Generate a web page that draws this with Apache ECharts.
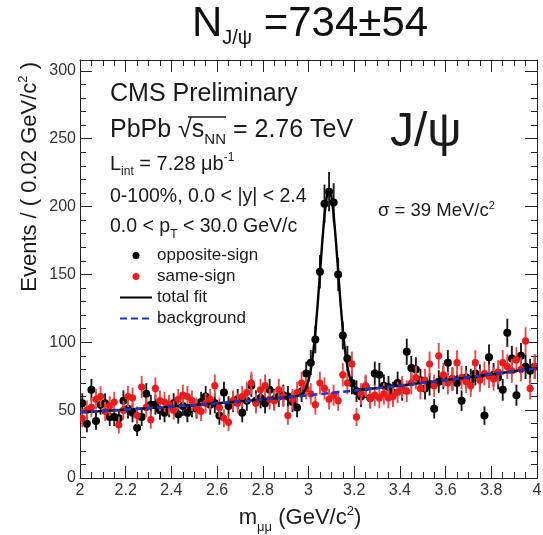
<!DOCTYPE html>
<html>
<head>
<meta charset="utf-8">
<script src="https://cdn.jsdelivr.net/npm/echarts@6/dist/echarts.min.js"></script>
<style>
html, body { margin: 0; padding: 0; background: #fff; }
#chart { width: 543px; height: 535px; }
</style>
</head>
<body>
<div id="chart"></div>
<script>
// Dimuon invariant mass, 0.02 GeV/c^2 bins between 2 and 4 GeV/c^2
const massBins = [
  2.01, 2.03, 2.05, 2.07, 2.09, 2.11, 2.13, 2.15, 2.17, 2.19,
  2.21, 2.23, 2.25, 2.27, 2.29, 2.31, 2.33, 2.35, 2.37, 2.39,
  2.41, 2.43, 2.45, 2.47, 2.49, 2.51, 2.53, 2.55, 2.57, 2.59,
  2.61, 2.63, 2.65, 2.67, 2.69, 2.71, 2.73, 2.75, 2.77, 2.79,
  2.81, 2.83, 2.85, 2.87, 2.89, 2.91, 2.93, 2.95, 2.97, 2.99,
  3.01, 3.03, 3.05, 3.07, 3.09, 3.11, 3.13, 3.15, 3.17, 3.19,
  3.21, 3.23, 3.25, 3.27, 3.29, 3.31, 3.33, 3.35, 3.37, 3.39,
  3.41, 3.43, 3.45, 3.47, 3.49, 3.51, 3.53, 3.55, 3.57, 3.59,
  3.61, 3.63, 3.65, 3.67, 3.69, 3.71, 3.73, 3.75, 3.77, 3.79,
  3.81, 3.83, 3.85, 3.87, 3.89, 3.91, 3.93, 3.95, 3.97, 3.99
];

// Opposite-sign dimuon counts per bin
const oppositeSign = [
  55, 40, 65, 42, 54, 55, 45, 45, 44, 57,
  51, 48, 37, 45, 62, 54, 54, 50, 48, 52,
  55, 47, 53, 48, 52, 51, 56, 60, 54, 55,
  46, 63, 53, 56, 58, 48, 57, 68, 57, 59,
  55, 65, 58, 60, 61, 60, 56, 52, 64, 77,
  85, 102, 152, 202, 211, 203, 150, 105, 88, 70,
  64, 60, 67, 59, 77, 76, 68, 67, 63, 70,
  65, 93, 81, 80, 72, 66, 69, 51, 71, 74,
  85, 73, 70, 57, 74, 72, 77, 75, 46, 89,
  76, 74, 65, 107, 88, 61, 90, 82, 79, 82
];

// Same-sign dimuon counts per bin
const sameSign = [
  44, 50, 52, 58, 60, 49, 53, 56, 39, 50,
  60, 59, 46, 67, 52, 43, 66, 57, 56, 54,
  50, 58, 61, 60, 57, 52, 49, 55, 58, 68,
  52, 44, 41, 57, 55, 60, 63, 70, 55, 65,
  68, 58, 57, 65, 60, 46, 58, 63, 70, 66,
  62, 54, 70, 66, 58, 61, 57, 76, 70, 84,
  45, 62, 68, 59, 61, 59, 62, 59, 60, 63,
  67, 64, 70, 74, 66, 72, 84, 68, 90, 76,
  70, 73, 85, 74, 71, 68, 85, 72, 77, 75,
  73, 78, 85, 82, 79, 87, 80, 101, 66, 82
];

// Total fit (signal + background), sampled finely across the J/psi peak
const fitMass = [
  2.0, 2.1, 2.2, 2.3, 2.4, 2.5, 2.6, 2.7, 2.8, 2.9,
  2.94, 2.95, 2.96, 2.97, 2.98, 2.99, 3.00, 3.01, 3.02, 3.03,
  3.04, 3.05, 3.06, 3.07, 3.08, 3.09, 3.10, 3.11, 3.12, 3.13,
  3.14, 3.15, 3.16, 3.17, 3.18, 3.19, 3.20, 3.21, 3.22, 3.23,
  3.24, 3.3, 3.4, 3.5, 3.6, 3.7, 3.8, 3.9, 4.0
];
const fitTotal = [
  48.5, 49.4, 50.4, 51.5, 52.6, 53.8, 55.1, 56.5, 57.9, 59.4,
  60.1, 60.4, 60.9, 61.8, 63.5, 66.4, 71.5, 79.5, 91.3, 107.4,
  127.7, 150.4, 173.6, 193.7, 207.5, 212.5, 207.9, 194.3, 174.6, 151.8,
  129.3, 109.4, 93.7, 82.2, 74.5, 69.8, 67.2, 65.9, 65.3, 65.2,
  65.2, 66.2, 68.1, 70.1, 72.1, 74.2, 76.4, 78.7, 81.0
];

// Background component of the fit
const bkgMass = [
  2.0, 2.1, 2.2, 2.3, 2.4, 2.5, 2.6, 2.7, 2.8, 2.9, 3.0,
  3.1, 3.2, 3.3, 3.4, 3.5, 3.6, 3.7, 3.8, 3.9, 4.0
];
const bkgValues = [
  48.5, 49.4, 50.4, 51.5, 52.6, 53.8, 55.1, 56.5, 57.9, 59.4, 61.0,
  62.7, 64.4, 66.2, 68.1, 70.1, 72.1, 74.2, 76.4, 78.7, 81.0
];

const xTicks = { min: 2, max: 4, interval: 0.2 };
const yTicks = { min: 0, max: 308, major: 50, minor: 10 };

const FONT = 'Liberation Sans, Arial, Helvetica, sans-serif';

// points with Poisson error bars
function withErrors(values) {
  return values.map((v, i) => [massBins[i], v, Math.sqrt(v)]);
}

function errorBarRenderer(barColor, dotColor, radius) {
  return function (params, api) {
    const x = api.value(0), y = api.value(1), e = api.value(2);
    const hi = api.coord([x, y + e]);
    const lo = api.coord([x, y - e]);
    const c = api.coord([x, y]);
    return {
      type: 'group',
      children: [
        { type: 'line', shape: { x1: hi[0], y1: hi[1], x2: lo[0], y2: lo[1] },
          style: { stroke: barColor, lineWidth: 1.9 } },
        { type: 'circle', shape: { cx: c[0], cy: c[1], r: radius },
          style: { fill: dotColor } }
      ]
    };
  };
}

function richSet(F) {
  return {
    m: { fontSize: F, lineHeight: Math.round(F * 1.4), fontFamily: FONT, color: '#1a1a1a' },
    sub: { fontSize: Math.round(F * 0.6), lineHeight: Math.round(F * 0.6), verticalAlign: 'bottom', fontFamily: FONT, color: '#1a1a1a' },
    sup: { fontSize: Math.round(F * 0.6), lineHeight: Math.round(F * 0.6), verticalAlign: 'top',
           padding: [Math.round(F * 0.09), 0, 0, 0], fontFamily: FONT, color: '#1a1a1a' }
  };
}

function label(text, x, y, F, extra) {
  return Object.assign({
    type: 'text',
    x: x, y: y,
    style: {
      text: text,
      rich: richSet(F),
      fontSize: F,
      fontFamily: FONT,
      fill: '#1a1a1a',
      align: 'left', textAlign: 'left',
      verticalAlign: 'middle', textVerticalAlign: 'middle'
    },
    z: 10
  }, extra || {});
}

const titleRich = {
  n: { fontSize: 42, lineHeight: 48, fontFamily: FONT, color: '#111' },
  s: { fontSize: 20, lineHeight: 20, padding: [28, 0, 0, 0], verticalAlign: 'bottom', fontFamily: FONT, color: '#111' }
};

const chart = echarts.init(document.getElementById('chart'), null, { renderer: 'canvas' });

const axisLabelStyle = { fontSize: 16, color: '#333', fontFamily: FONT };

// legend icons for the curves: line only, no marker
const curveLegendStyle = { opacity: 0, borderWidth: 0 };

chart.setOption({
  animation: false,
  backgroundColor: '#fff',
  textStyle: { fontFamily: FONT },
  grid: { left: 80, right: 6, top: 60, bottom: 57, containLabel: false, outerBoundsMode: 'none' },
  legend: {
    orient: 'vertical',
    left: 114, top: 242,
    itemWidth: 32, itemHeight: 7, itemGap: 4,
    selectedMode: false,
    textStyle: { fontSize: 17, color: '#1a1a1a', fontFamily: FONT },
    data: [
      { name: 'opposite-sign', icon: 'circle', itemStyle: { color: '#000' } },
      { name: 'same-sign', icon: 'circle', itemStyle: { color: '#e81c1c' } },
      { name: 'total fit', itemStyle: curveLegendStyle },
      { name: 'background', itemStyle: curveLegendStyle }
    ]
  },
  xAxis: [
    {
      type: 'value', position: 'bottom',
      min: xTicks.min, max: xTicks.max, interval: xTicks.interval,
      axisLine: { show: true, onZero: false, lineStyle: { color: '#222', width: 1 } },
      axisTick: { show: true, inside: true, length: 12, lineStyle: { color: '#222' } },
      minorTick: { show: true, splitNumber: 4, length: 6, lineStyle: { color: '#222' } },
      splitLine: { show: false },
      axisLabel: Object.assign({ margin: 5, formatter: v => String(+v.toFixed(1)) }, axisLabelStyle)
    },
    {
      type: 'value', position: 'top',
      min: xTicks.min, max: xTicks.max, interval: xTicks.interval,
      axisLine: { show: true, onZero: false, lineStyle: { color: '#222', width: 1 } },
      axisTick: { show: true, inside: true, length: 12, lineStyle: { color: '#222' } },
      minorTick: { show: true, splitNumber: 4, length: 6, lineStyle: { color: '#222' } },
      splitLine: { show: false },
      axisLabel: { show: false }
    }
  ],
  yAxis: [
    {
      type: 'value', position: 'left',
      min: yTicks.min, max: yTicks.max, interval: yTicks.major,
      axisLine: { show: true, onZero: false, lineStyle: { color: '#222', width: 1 } },
      axisTick: { show: true, inside: true, length: 12, lineStyle: { color: '#222' } },
      splitLine: { show: false },
      axisLabel: Object.assign({ margin: 4, formatter: v => (v % yTicks.major === 0 ? String(v) : '') }, axisLabelStyle)
    },
    {
      type: 'value', position: 'left',
      min: yTicks.min, max: yTicks.max, interval: yTicks.minor,
      axisLine: { show: false },
      axisTick: { show: true, inside: true, length: 6, lineStyle: { color: '#222' } },
      splitLine: { show: false },
      axisLabel: { show: false }
    },
    {
      type: 'value', position: 'right',
      min: yTicks.min, max: yTicks.max, interval: yTicks.major,
      axisLine: { show: true, onZero: false, lineStyle: { color: '#222', width: 1 } },
      axisTick: { show: true, inside: true, length: 12, lineStyle: { color: '#222' } },
      splitLine: { show: false },
      axisLabel: { show: false }
    },
    {
      type: 'value', position: 'right',
      min: yTicks.min, max: yTicks.max, interval: yTicks.minor,
      axisLine: { show: false },
      axisTick: { show: true, inside: true, length: 6, lineStyle: { color: '#222' } },
      splitLine: { show: false },
      axisLabel: { show: false }
    }
  ],
  series: [
    {
      name: 'opposite-sign', type: 'custom',
      xAxisIndex: 0, yAxisIndex: 0,
      data: withErrors(oppositeSign),
      encode: { x: 0, y: 1 },
      renderItem: errorBarRenderer('#1b1b1b', '#000', 4),
      itemStyle: { color: '#000' },
      clip: true, z: 2
    },
    {
      name: 'same-sign', type: 'custom',
      xAxisIndex: 0, yAxisIndex: 0,
      data: withErrors(sameSign),
      encode: { x: 0, y: 1 },
      renderItem: errorBarRenderer('#f04848', '#e81c1c', 3.6),
      itemStyle: { color: '#e81c1c' },
      clip: true, z: 3
    },
    {
      name: 'total fit', type: 'line',
      xAxisIndex: 0, yAxisIndex: 0,
      data: fitMass.map((m, i) => [m, fitTotal[i]]),
      symbol: 'none', smooth: false,
      lineStyle: { color: '#000', width: 2.4 },
      itemStyle: { color: '#000' },
      z: 4
    },
    {
      name: 'background', type: 'line',
      xAxisIndex: 0, yAxisIndex: 0,
      data: bkgMass.map((m, i) => [m, bkgValues[i]]),
      symbol: 'none', smooth: true,
      lineStyle: { color: '#2233c8', width: 2.6, type: [7, 4] },
      itemStyle: { color: '#2233c8' },
      z: 5
    }
  ],
  graphic: [
    {
      type: 'text', x: 310, y: 24, z: 10,
      style: {
        text: '{n|N}{s|J/ψ}{n| =734±54}',
        rich: titleRich, fontSize: 42, fontFamily: FONT, fill: '#111',
        align: 'center', textAlign: 'center',
        verticalAlign: 'middle', textVerticalAlign: 'middle'
      }
    },
    label('{m|CMS Preliminary}', 110, 94, 25),
    label('{m|PbPb √s}{sub|NN}{m| = 2.76 TeV}', 110, 130, 25),
    {
      type: 'line', z: 10,
      shape: { x1: 188, y1: 117, x2: 226, y2: 117 },
      style: { stroke: '#1a1a1a', lineWidth: 1.3 }
    },
    label('{m|J/ψ}', 390, 133, 48),
    label('{m|L}{sub|int}{m| = 7.28 μb}{sup|-1}', 110, 164, 20),
    label('{m|0-100%, 0.0 < |y| < 2.4}', 110, 197, 19.5),
    label('{m|0.0 < p}{sub|T}{m| < 30.0 GeV/c}', 110, 227, 19.5),
    label('{m|σ = 39 MeV/c}{sup|2}', 378, 211, 18.5),
    {
      type: 'text', x: 30, y: 62, rotation: Math.PI / 2, z: 10,
      style: {
        text: '{m|Events / ( 0.02 GeV/c}{sup|2}{m| )}',
        rich: richSet(22), fontSize: 22, fontFamily: FONT, fill: '#1a1a1a',
        align: 'right', textAlign: 'right',
        verticalAlign: 'middle', textVerticalAlign: 'middle'
      }
    },
    {
      type: 'text', x: 300, y: 518, z: 10,
      style: {
        text: '{m|m}{sub|μμ}{m| (GeV/c}{sup|2}{m|)}',
        rich: richSet(22), fontSize: 22, fontFamily: FONT, fill: '#1a1a1a',
        align: 'center', textAlign: 'center',
        verticalAlign: 'middle', textVerticalAlign: 'middle'
      }
    }
  ]
});
</script>
</body>
</html>
